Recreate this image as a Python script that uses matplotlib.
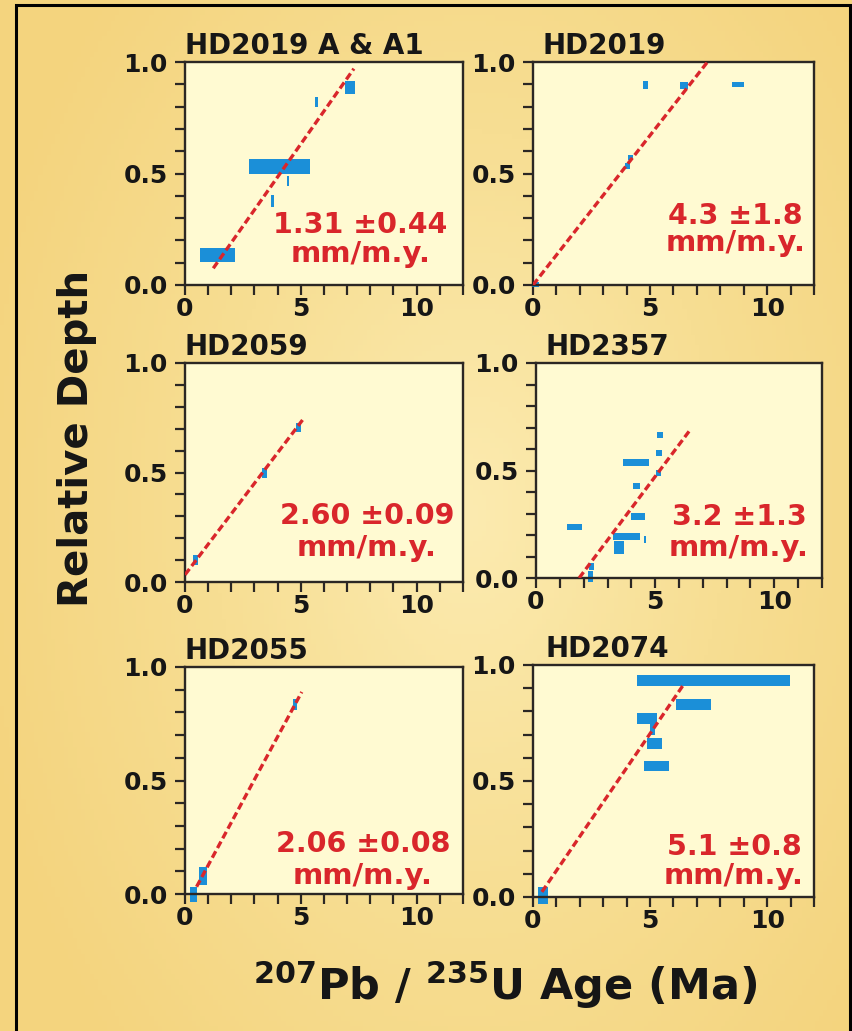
import numpy as np
import matplotlib
matplotlib.use("Agg")
import matplotlib.pyplot as plt
from matplotlib.colors import LinearSegmentedColormap

plt.rcParams['font.family'] = ['DejaVu Sans']
plt.rcParams['font.weight'] = 'bold'
plt.rcParams['mathtext.fontset'] = 'dejavusans'

# error boxes per sample: (age min, age max, depth min, depth max)
hd2019a_boxes = [(0.65, 2.16, 0.104, 0.164), (2.78, 5.40, 0.50, 0.564),
                 (4.39, 4.50, 0.443, 0.488), (3.71, 3.83, 0.348, 0.403),
                 (5.61, 5.73, 0.798, 0.843), (6.89, 7.34, 0.855, 0.913)]
hd2019_boxes = [(-0.05, 0.25, -0.01, 0.015), (3.92, 4.13, 0.522, 0.545),
                (4.06, 4.27, 0.56, 0.582), (4.70, 4.89, 0.88, 0.913),
                (6.28, 6.60, 0.88, 0.91), (8.48, 8.99, 0.888, 0.91)]
hd2059_boxes = [(0.36, 0.58, 0.079, 0.125), (3.33, 3.53, 0.475, 0.52),
                (4.80, 5.00, 0.683, 0.726)]
hd2357_boxes = [(1.28, 1.95, 0.225, 0.253), (3.24, 4.35, 0.178, 0.209),
                (3.26, 3.68, 0.113, 0.171), (4.53, 4.63, 0.163, 0.197),
                (3.97, 4.56, 0.271, 0.302), (4.07, 4.35, 0.414, 0.442),
                (3.65, 4.74, 0.522, 0.553), (5.05, 5.26, 0.473, 0.504),
                (5.05, 5.29, 0.569, 0.597), (5.09, 5.33, 0.651, 0.677),
                (2.23, 2.43, 0.039, 0.07), (2.19, 2.40, -0.02, 0.031)]
hd2055_boxes = [(0.22, 0.50, -0.034, 0.032), (0.62, 0.97, 0.04, 0.12),
                (4.65, 4.83, 0.812, 0.861)]
hd2074_boxes = [(4.42, 10.98, 0.909, 0.957), (6.10, 7.61, 0.806, 0.852),
                (4.42, 5.29, 0.745, 0.791), (5.01, 5.22, 0.698, 0.745),
                (4.87, 5.53, 0.64, 0.686), (4.76, 5.81, 0.542, 0.587),
                (0.20, 0.62, -0.029, 0.043)]

# regression line end points: ([x0, x1], [y0, y1])
hd2019a_fit = ([1.22, 7.29], [0.075, 0.970])
hd2019_fit = ([0.0, 7.45], [0.0, 1.0])
hd2059_fit = ([0.0, 5.14], [0.033, 0.749])
hd2357_fit = ([1.81, 6.42], [0.0, 0.682])
hd2055_fit = ([0.5, 5.04], [0.032, 0.89])
hd2074_fit = ([0.38, 6.42], [0.022, 0.914])

names = ['HD2019 A & A1', 'HD2019', 'HD2059', 'HD2357', 'HD2055', 'HD2074']
rates = ['1.31 \u00b10.44', '4.3 \u00b11.8', '2.60 \u00b10.09',
         '3.2 \u00b11.3', '2.06 \u00b10.08', '5.1 \u00b10.8']
boxes = [hd2019a_boxes, hd2019_boxes, hd2059_boxes, hd2357_boxes, hd2055_boxes, hd2074_boxes]
fits = [hd2019a_fit, hd2019_fit, hd2059_fit, hd2357_fit, hd2055_fit, hd2074_fit]

W, H = 853, 1031
# axes boxes in pixels: left, right, top, bottom
pix = [(185, 463, 62, 285), (533, 814, 62, 285),
       (185, 463, 363, 582), (536, 822, 363, 578),
       (185, 463, 667, 894), (533, 814, 665, 897)]
# rate label positions (axes fraction)
lab = [(0.63, 0.27, 0.14), (0.72, 0.31, 0.19),
       (0.655, 0.30, 0.155), (0.71, 0.285, 0.14),
       (0.64, 0.22, 0.08), (0.715, 0.215, 0.09)]
title_dx = [0, 10, 0, 9, 0, 12]

blue = '#1b8fd8'
red = '#d9262b'
spine = '#2b2724'
ink = '#161616'

fig = plt.figure(figsize=(W / 100, H / 100), dpi=100)

# gold background with a soft glow in the middle
bg = fig.add_axes([0, 0, 1, 1], zorder=-5)
yy, xx = np.mgrid[0:1:200j, 0:1:200j]
r = np.sqrt(((xx - 0.55) / 0.6) ** 2 + ((yy - 0.5) / 0.75) ** 2)
cmap = LinearSegmentedColormap.from_list('gold', ['#fcebb0', '#f7de93', '#f4d47e'])
bg.imshow(r, cmap=cmap, extent=[0, 1, 0, 1], aspect='auto', vmin=0, vmax=1)
bg.add_patch(plt.Rectangle((16 / W, -0.01), (850 - 16) / W, (H - 5) / H + 0.01,
                           fill=False, ec='black', lw=2.2, transform=bg.transAxes))
bg.set_xlim(0, 1)
bg.set_ylim(0, 1)
bg.axis('off')

for i in range(6):
    l, rr, t, b = pix[i]
    ax = fig.add_axes([l / W, 1 - b / H, (rr - l) / W, (b - t) / H])
    ax.set_facecolor('#fffad2')
    bx = boxes[i]
    x0 = [q[0] for q in bx]
    wd = [q[1] - q[0] for q in bx]
    y0 = [q[2] for q in bx]
    ht = [q[3] - q[2] for q in bx]
    ax.bar(x0, ht, width=wd, bottom=y0, align='edge', color=blue, lw=0,
           zorder=2, clip_on=False)
    fx, fy = fits[i]
    ax.plot(fx, fy, color=red, lw=2.4, dashes=(2.2, 1.1), zorder=3)
    ax.set_xlim(0, 12)
    ax.set_ylim(0, 1)
    ax.set_xticks([0, 5, 10])
    ax.set_xticks(np.arange(0, 13, 1), minor=True)
    ax.set_yticks([0, 0.5, 1.0])
    ax.set_yticklabels(['0.0', '0.5', '1.0'])
    ax.set_yticks(np.arange(0, 1.01, 0.1), minor=True)
    for s in ax.spines.values():
        s.set_color(spine)
        s.set_linewidth(1.7)
    ax.tick_params(which='both', direction='out', length=7.5, width=1.6, color=spine)
    ax.tick_params(axis='x', labelsize=18, pad=1)
    ax.tick_params(axis='y', labelsize=18, pad=5)
    for lb in ax.get_xticklabels() + ax.get_yticklabels():
        lb.set_fontweight('bold')
        lb.set_color(ink)
    ax.text((l + title_dx[i]) / W, 1 - (t - 8) / H, names[i], transform=fig.transFigure,
            fontsize=20, fontweight='bold', color=ink, ha='left', va='baseline')
    lx, ly1, ly2 = lab[i]
    ax.text(lx, ly1, rates[i], transform=ax.transAxes, ha='center', va='center',
            fontsize=20.5, fontweight='bold', color=red, zorder=4)
    ax.text(lx, ly2, 'mm/m.y.', transform=ax.transAxes, ha='center', va='center',
            fontsize=21, fontweight='bold', color=red, zorder=4)

fig.text(77 / W, 1 - 438 / H, 'Relative Depth', rotation=90, ha='center', va='center',
         fontsize=29, fontweight='bold', color=ink)
fig.text(505 / W, 1 - 1000 / H, r'$\mathbf{^{207}Pb\ /\ ^{235}U\ Age\ (Ma)}$',
         ha='center', va='baseline', fontsize=31, color=ink)

fig.savefig('out.png', dpi=100)
